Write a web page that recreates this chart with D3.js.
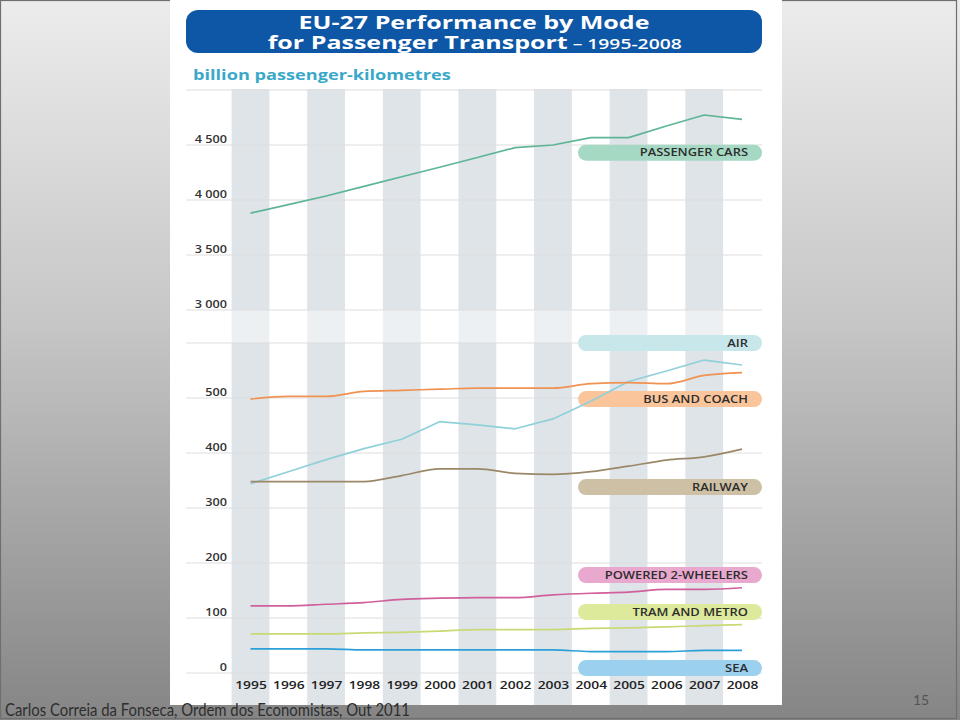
<!DOCTYPE html>
<html><head><meta charset="utf-8">
<script src="https://cdn.jsdelivr.net/npm/d3@7"></script>
<style>
html,body{margin:0;padding:0;background:#fff;}
svg{display:block;}
</style></head>
<body>
<svg id="chart" width="960" height="720"></svg>
<script>
// ---------- DATA ----------
const years = [1995,1996,1997,1998,1999,2000,2001,2002,2003,2004,2005,2006,2007,2008];
const carsValues = [3880,3958,4036,4124,4211,4298,4386,4476,4500,4567,4567,4673,4773,4733];
const airValues  = [344,366,388,408,425,457,451,444,462,494,530,549,569,560];
const busValues  = [498,503,503,512,514,516,518,518,518,526,528,526,541,546];
const railValues = [348,348,348,348,359,371,371,363,361,366,376,387,393,407];
const p2wValues  = [122,122,125,128,134,136,137,137,142,145,147,152,152,155];
const tramValues = [71,71,71,73,74,76,79,79,79,81,82,84,86,88];
const seaValues  = [44,44,44,42,42,42,42,42,42,39,39,39,41,41];
const seriesNames = ["PASSENGER CARS","AIR","BUS AND COACH","RAILWAY","POWERED 2-WHEELERS","TRAM AND METRO","SEA"];
const labelAnchors = [4430,600,498,338,178,111,9];
const topTicks = [3000,3500,4000,4500];
const topGrid = [3000,3500,4000,4500,5000];
const bottomTicks = [0,100,200,300,400,500];
const bottomGrid = [0,100,200,300,400,500,600];
const titleLine1 = "EU-27 Performance by Mode";
const titleLine2 = "for Passenger Transport";
const titleYears = " – 1995-2008";
const unitLabel = "billion passenger-kilometres";
const footerText = "Carlos Correia da Fonseca, Ordem dos Economistas, Out 2011";
const pageNumber = "15";

// ---------- STYLE ----------
const lineColors = ["#5db596","#8fd0d9","#ef9252","#9a8868","#d0609c","#c9da74","#2ba0d8"];
const pillColors = ["#a6d9c3","#c7e7eb","#fbc59c","#cdc0a4","#e9a8cd","#dde99b","#9bd0ee"];
const FONT = "'Open Sans', sans-serif";

// widen text horizontally (the original slide is slightly stretched)
function stretch(sel, k){
  sel.each(function(){
    const w = this.getComputedTextLength();
    this.setAttribute("textLength", (w*k).toFixed(1));
    this.setAttribute("lengthAdjust","spacingAndGlyphs");
  });
}

const svg = d3.select("#chart");
const defs = svg.append("defs");
const bg = defs.append("linearGradient").attr("id","bg").attr("x1",0).attr("y1",0).attr("x2",0).attr("y2",1);
bg.append("stop").attr("offset","0%").attr("stop-color","#ececec");
bg.append("stop").attr("offset","45%").attr("stop-color","#c6c6c6");
bg.append("stop").attr("offset","100%").attr("stop-color","#858585");

svg.append("rect").attr("x",0).attr("y",0).attr("width",960).attr("height",720).attr("fill","url(#bg)");
svg.append("rect").attr("x",0.5).attr("y",0.5).attr("width",956).attr("height",718)
  .attr("fill","none").attr("stroke","#6f6f6f").attr("stroke-width",1.2);

// white panel
svg.append("rect").attr("x",170).attr("y",0).attr("width",612).attr("height",705).attr("fill","#ffffff");

// scales
const x = d3.scaleLinear().domain([1995,2008]).range([250.5,742]);
const step = x(1996)-x(1995);
const yTop = d3.scaleLinear().domain([3000,5000]).range([310,90]);
const yBot = d3.scaleLinear().domain([0,600]).range([673,343]);

// bands
svg.append("g").selectAll("rect").data(years.filter((d,i)=>i%2===0)).join("rect")
  .attr("x",d=>x(d)-step/2).attr("y",89).attr("width",step).attr("height",705-89)
  .attr("fill","#dfe4e9");

// lighter break zone
svg.append("rect").attr("x",186).attr("y",yTop(3000)).attr("width",576).attr("height",yBot(600)-yTop(3000))
  .attr("fill","#ffffff").attr("opacity",0.45);

// grid lines
const gridX1 = 186, gridX2 = 762;
svg.append("g").selectAll("line").data(topGrid).join("line")
  .attr("x1",gridX1).attr("x2",gridX2).attr("y1",d=>yTop(d)).attr("y2",d=>yTop(d))
  .attr("stroke","#dddddd").attr("stroke-width",1);
svg.append("g").selectAll("line").data(bottomGrid).join("line")
  .attr("x1",gridX1).attr("x2",gridX2).attr("y1",d=>yBot(d)).attr("y2",d=>yBot(d))
  .attr("stroke","#dddddd").attr("stroke-width",1);

// axes labels
const fmt = v => v >= 1000 ? String(Math.floor(v/1000)) + " " + String(v%1000).padStart(3,"0") : String(v);
function styleAxis(g){
  g.select(".domain").remove();
  g.selectAll("text").attr("font-family",FONT).attr("font-weight",600)
    .attr("font-size",11.5).attr("fill","#333");
}
svg.append("g").attr("transform","translate(227,0)")
  .call(d3.axisLeft(yTop).tickValues(topTicks).tickFormat(fmt).tickSize(0).tickPadding(0))
  .call(styleAxis).selectAll("text").attr("dy","-0.25em").call(stretch,1.1);
svg.append("g").attr("transform","translate(227,0)")
  .call(d3.axisLeft(yBot).tickValues(bottomTicks).tickFormat(fmt).tickSize(0).tickPadding(0))
  .call(styleAxis).selectAll("text").attr("dy","-0.25em").call(stretch,1.1);
svg.append("g").attr("transform","translate(0,681)")
  .call(d3.axisBottom(x).tickValues(years).tickFormat(d3.format("d")).tickSize(0).tickPadding(0))
  .call(styleAxis).selectAll("text").attr("font-size",11.5).attr("fill","#222").call(stretch,1.2);

// pills
const pillX = 578, pillW = 184, pillH = 16;
const pillScale = [yTop, yBot, yBot, yBot, yBot, yBot, yBot];
const pills = svg.append("g").selectAll("g").data(seriesNames).join("g")
  .attr("transform",(d,i)=>`translate(${pillX},${pillScale[i](labelAnchors[i]) - pillH/2})`);
pills.append("rect").attr("width",pillW).attr("height",pillH).attr("rx",8)
  .attr("fill",(d,i)=>pillColors[i]);
pills.append("text").attr("x",pillW-14).attr("y",pillH/2).attr("dy","0.36em")
  .attr("text-anchor","end").attr("font-family",FONT).attr("font-weight",600)
  .attr("font-size",10.5).attr("fill","#2d2d2d").text(d=>d).call(stretch,1.23);

// lines
const allSeries = [carsValues, airValues, busValues, railValues, p2wValues, tramValues, seaValues];
allSeries.forEach((vals,i)=>{
  const ys = i===0 ? yTop : yBot;
  const line = d3.line().x((d,j)=>x(years[j])).y(d=>ys(d)).curve(i<2?d3.curveLinear:d3.curveMonotoneX);
  svg.append("path").datum(vals).attr("d",line).attr("fill","none")
    .attr("stroke",lineColors[i]).attr("stroke-width",1.7).attr("stroke-linejoin","round");
});

// title box
svg.append("rect").attr("x",186).attr("y",10).attr("width",576).attr("height",43).attr("rx",12)
  .attr("fill","#0d57a6");
const title = svg.append("text").attr("transform","translate(474,0) scale(1.43,1)")
  .attr("text-anchor","middle").attr("font-family",FONT).attr("fill","#fff");
title.append("tspan").attr("x",0).attr("y",29).attr("font-weight",700).attr("font-size",17.5).text(titleLine1);
title.append("tspan").attr("x",0.5).attr("y",49).attr("font-weight",700).attr("font-size",17.5).text(titleLine2);
title.append("tspan").attr("font-weight",600).attr("font-size",13.5).text(titleYears);

svg.append("text").attr("x",193).attr("y",80)
  .attr("font-family",FONT).attr("font-weight",700).attr("font-size",15)
  .attr("fill","#3aa8c9").text(unitLabel).call(stretch,1.21);

// footer
svg.append("text").attr("x",5).attr("y",716)
  .attr("font-family","Lato, sans-serif")
  .attr("font-size",16.5).attr("fill","#2e2e2e").text(footerText)
  .attr("textLength",405).attr("lengthAdjust","spacingAndGlyphs");
svg.append("text").attr("x",913).attr("y",705)
  .attr("font-family","Lato, sans-serif")
  .attr("font-size",14).attr("fill","#555").text(pageNumber);
</script>
</body></html>
